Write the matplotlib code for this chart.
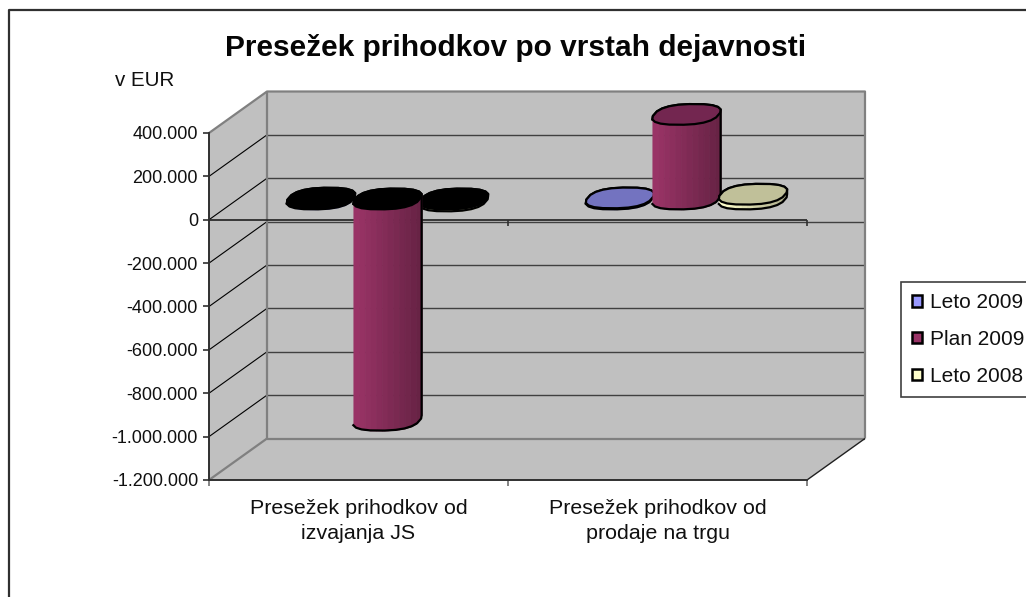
import numpy as np
import matplotlib
matplotlib.use("Agg")
import matplotlib.pyplot as plt
from matplotlib.lines import Line2D
from matplotlib.patches import Patch, Polygon
from matplotlib.colors import to_rgb

plt.rcParams['font.family'] = ['Liberation Sans', 'DejaVu Sans']

# Data
title = "Presežek prihodkov po vrstah dejavnosti"
unit_label = "v EUR"
categories = ["Presežek prihodkov od\nizvajanja JS", "Presežek prihodkov od\nprodaje na trgu"]
series_names = ["Leto 2009", "Plan 2009", "Leto 2008"]
leto_2009 = [4000, 5000]
plan_2009 = [-1020000, 390000]
leto_2008 = [-9000, 22000]
y_ticks = [400000, 200000, 0, -200000, -400000, -600000, -800000, -1000000, -1200000]
y_tick_labels = ["400.000", "200.000", "0", "-200.000", "-400.000", "-600.000",
                 "-800.000", "-1.000.000", "-1.200.000"]

# Colours
legend_colors = ["#9999ff", "#993366", "#ffffcc"]
top_colors = ["#7373c0", "#732650", "#c0c099"]
WALL = "#c0c0c0"
EDGE = "#808080"

W, H = 1026, 597
fig = plt.figure(figsize=(W / 100, H / 100), dpi=100)
ax = fig.add_axes([209 / W, (H - 480) / H, 598 / W, 347 / H])
ax.set_xlim(0, 2)
ax.set_ylim(-1200000, 400000)

# oblique depth of the box, in axis units
depth_x = 58 / 299
depth_y = 41.5 * 1600000 / 347


def wall(points, color=WALL):
    ax.add_patch(Polygon(points, closed=True, fc=color, ec='none', zorder=1, clip_on=False))


def line(xs, ys, color, lw, z=2):
    ax.plot(xs, ys, color=color, lw=lw, zorder=z, clip_on=False, solid_capstyle='butt')


lo, hi = -1200000, 400000
wall([(0, hi), (depth_x, hi + depth_y), (depth_x, lo + depth_y), (0, lo)])
wall([(depth_x, hi + depth_y), (2 + depth_x, hi + depth_y), (2 + depth_x, lo + depth_y), (depth_x, lo + depth_y)])
wall([(0, lo), (2, lo), (2 + depth_x, lo + depth_y), (depth_x, lo + depth_y)])

# gridlines on the back wall and the diagonals on the side wall
for v in y_ticks[1:-1]:
    line([depth_x, 2 + depth_x], [v + depth_y] * 2, "#404040", 1.0)
    line([0, depth_x], [v, v + depth_y], "black", 0.8)
line([0, depth_x, 2 + depth_x, 2 + depth_x], [hi, hi + depth_y, hi + depth_y, lo + depth_y], EDGE, 1.6)
line([depth_x, depth_x], [hi + depth_y, lo + depth_y], EDGE, 1.6)
line([depth_x, 2 + depth_x], [lo + depth_y] * 2, EDGE, 1.6)
line([0, depth_x], [lo, lo + depth_y], EDGE, 1.6)
line([2, 2 + depth_x], [lo, lo + depth_y], "#202020", 1.0)

# category axis at zero
line([0, 2], [0, 0], "#202020", 1.2, z=3)
for x in [1, 2]:
    line([x, x], [0, -28000], "#303030", 1.2, z=3)

# cylinders, the rings are blunt polygons like in the original
a = 32.5 / 299        # half width along x
b = 0.25              # half size along depth
skew = 0.55
t = np.linspace(0, 2 * np.pi, 21)[:-1] + 0.1
cos_t = np.sign(np.cos(t)) * np.abs(np.cos(t)) ** 0.8
sin_t = np.sign(np.sin(t)) * np.abs(np.sin(t)) ** 0.8
ring_x = a * cos_t + skew * b * depth_x * sin_t
ring_y = b * depth_y * sin_t
start = np.argmin(ring_x)
ring_x = np.roll(ring_x, -start)
ring_y = np.roll(ring_y, -start)
right = np.argmax(ring_x)


def cylinder(xc, value, base_color, top_color, outline, z):
    xc = xc + depth_x / 2
    v_top = max(value, 0) + depth_y / 2
    v_bot = min(value, 0) + depth_y / 2
    lx, ly = xc + ring_x[:right + 1], v_bot + ring_y[:right + 1]
    ux, uy = xc + np.r_[ring_x[right:], ring_x[0]], v_top + np.r_[ring_y[right:], ring_y[0]]
    strips = np.linspace(lx[0], lx[-1], 13)
    rgb = np.array(to_rgb(base_color))
    for i in range(len(strips) - 1):
        sx = np.array([strips[i], strips[i + 1]])
        shade = 1.0 - 0.32 * (i / (len(strips) - 2))
        ax.fill_between(sx, np.interp(sx, lx, ly), np.interp(sx, ux[::-1], uy[::-1]),
                        fc=rgb * shade, ec=rgb * shade, lw=0.5, zorder=z, clip_on=False)
    ax.plot(np.r_[lx, ux], np.r_[ly, uy], color=outline, lw=1.6, zorder=z + 0.1, clip_on=False)
    ax.fill(xc + ring_x, v_top + ring_y, fc=top_color, ec=outline, lw=1.6, zorder=z + 0.2, clip_on=False)


series = [leto_2009, plan_2009, leto_2008]
centers = [-0.2224, 0, 0.2224]
for s, vals in enumerate(series):
    for c, val in enumerate(vals):
        top = "black" if c == 0 else top_colors[s]
        z = 5 + s + (5 if val < -100000 else 0)
        cylinder(c + 0.5 + centers[s], val, legend_colors[s], top, "black", z)

# axes furniture
for name in ['top', 'right']:
    ax.spines[name].set_visible(False)
for name in ['left', 'bottom']:
    ax.spines[name].set_color("#303030")
    ax.spines[name].set_linewidth(1.4)
    ax.spines[name].set_zorder(4)
ax.patch.set_visible(False)
ax.set_yticks(y_ticks)
ax.set_yticklabels(y_tick_labels, fontsize=13, color="#101010")
ax.tick_params(axis='y', length=4.3, width=1.2, color="#303030", pad=3.6)
ax.set_xticks([0, 1, 2])
ax.set_xticklabels([])
ax.tick_params(axis='x', length=4.3, width=1.2, color="#707070")
ax.set_xticks([0.5, 1.5], minor=True)
ax.set_xticklabels(categories, minor=True, fontsize=15.4, color="#101010", linespacing=1.4)
ax.tick_params(axis='x', which='minor', length=0, pad=13.5)

fig.text(516 / W, 1 - 56 / H, title, fontsize=21.5, fontweight='bold', ha='center', va='baseline', color="#050505")
fig.text(144.5 / W, 1 - 86 / H, unit_label, fontsize=14.8, ha='center', va='baseline', color="#101010")

# outer chart frame, runs off the right and bottom of the picture
fig.add_artist(Line2D([9 / W, 9 / W, 1], [0, 1 - 10 / H, 1 - 10 / H], color="#303030", lw=1.6))

handles = [Patch(fc=c, ec="black", lw=1.8) for c in legend_colors]
leg = fig.legend(handles, series_names, loc='upper left', bbox_to_anchor=(901 / W, 1 - 282 / H),
                 bbox_transform=fig.transFigure, borderaxespad=0, fontsize=15, frameon=True, fancybox=False,
                 edgecolor="#404040", framealpha=1, handlelength=0.47, handleheight=0.47,
                 labelspacing=0.85, handletextpad=0.39, borderpad=0.55, labelcolor="#101010")
leg.get_frame().set_linewidth(1.2)

fig.savefig("out.png", dpi=100, facecolor="white")
